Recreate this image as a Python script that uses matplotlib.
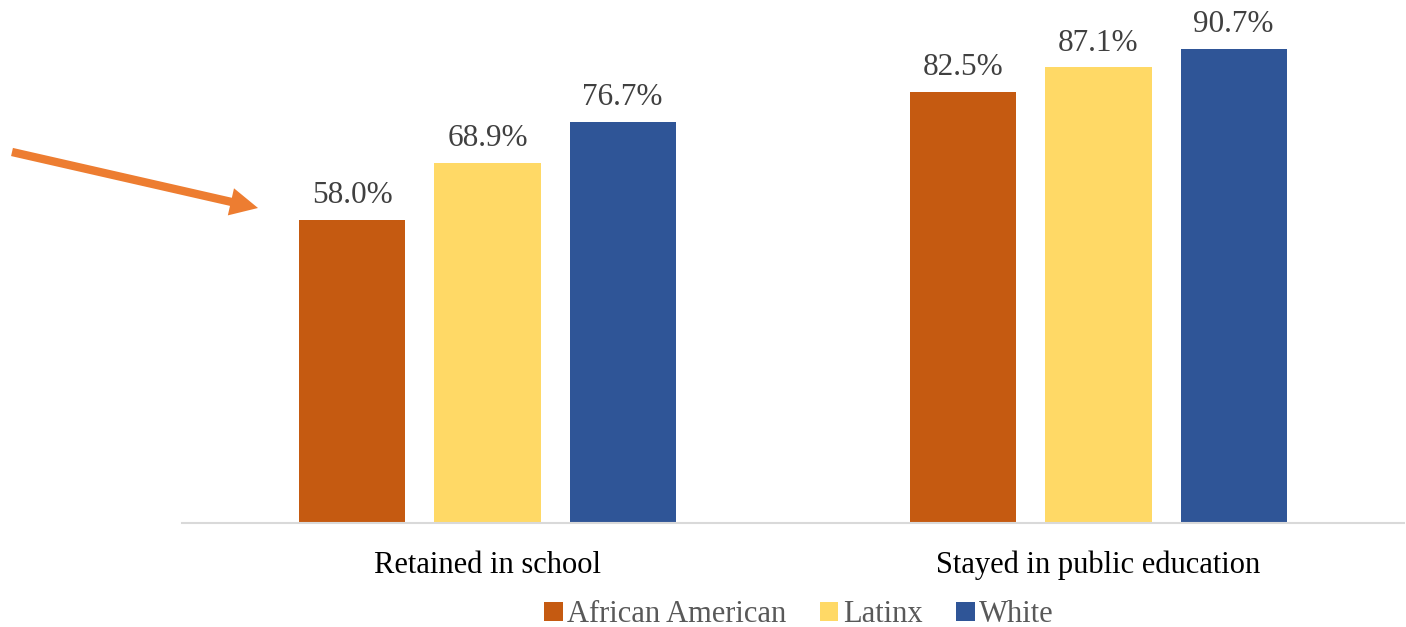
import matplotlib.pyplot as plt
import numpy as np

categories = ["Retained in school", "Stayed in public education"]
groups = ["African American", "Latinx", "White"]
african_american = [58.0, 82.5]
latinx = [68.9, 87.1]
white = [76.7, 90.7]
colors = ["#C55A11", "#FFD966", "#2F5597"]

plt.rcParams['font.family'] = ['Liberation Serif', 'DejaVu Serif']

W, H = 1406, 627
fig = plt.figure(figsize=(W / 100, H / 100), dpi=100)
ax = fig.add_axes([182 / W, 1 - 523 / H, (1404 - 182) / W, 523 / H])

x = np.arange(len(categories))
width = 0.1735
offset = 0.221
series = [african_american, latinx, white]
for i, (vals, name, c) in enumerate(zip(series, groups, colors)):
    bars = ax.bar(x + (i - 1) * offset, vals, width, color=c, label=name)
    for b, v in zip(bars, vals):
        ax.text(b.get_x() + b.get_width() / 2, v + 1.8, f"{v:.1f}%",
                ha='center', va='bottom', fontsize=22.5, color='#404040')

ax.set_xlim(-0.5, 1.5)
ax.set_ylim(0, 100)
ax.set_xticks(x)
ax.set_xticklabels(categories, fontsize=22, color='#000000')
ax.tick_params(axis='x', length=0, pad=20)
ax.set_yticks([])
for s in ['top', 'right', 'left']:
    ax.spines[s].set_visible(False)
ax.spines['bottom'].set_color('#D9D9D9')
ax.spines['bottom'].set_linewidth(1.5)
ax.patch.set_visible(False)

leg = fig.legend(loc='center', bbox_to_anchor=(799 / W, 1 - 615 / H), ncol=3,
                 frameon=False, fontsize=22, handlelength=0.6, handleheight=0.6,
                 handletextpad=0.15, columnspacing=1.1)
for t in leg.get_texts():
    t.set_color('#595959')

# arrow pointing at the first bar
ax.annotate("", xy=(258, H - 208), xycoords='figure pixels',
            xytext=(12, H - 152), textcoords='figure pixels',
            arrowprops=dict(arrowstyle='simple,tail_width=0.3,head_width=1.0,head_length=1.0',
                            fc='#ED7D31', ec='none', lw=0, mutation_scale=20,
                            shrinkA=0, shrinkB=0))

fig.savefig("out.png", dpi=100)
